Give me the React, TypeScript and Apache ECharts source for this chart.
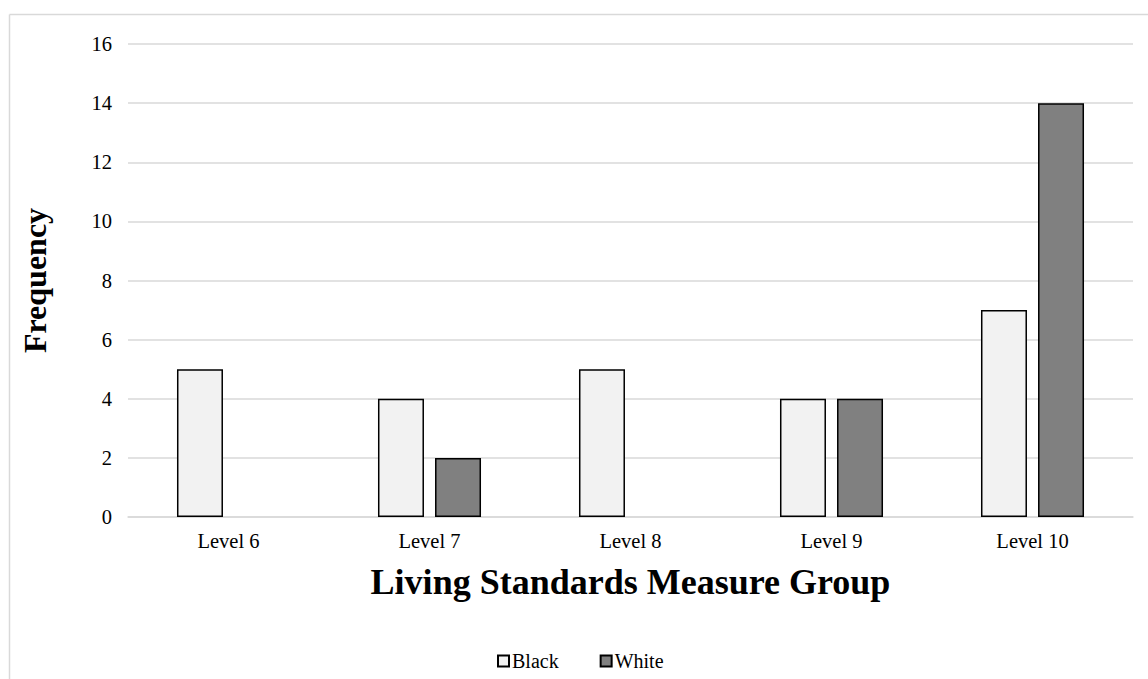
import React, { useEffect, useRef } from "react";
import * as echarts from "echarts";

const categories = ["Level 6", "Level 7", "Level 8", "Level 9", "Level 10"];
const blackValues = [5, 4, 5, 4, 7];
const whiteValues = [0, 2, 0, 4, 14];
const seriesNames = ["Black", "White"];

const FONT = "'Liberation Serif', 'Times New Roman', serif";

const toItems = (vals: number[]) =>
  vals.map((v) => (v === 0 ? { value: v, itemStyle: { borderWidth: 0, opacity: 0 } } : v));

export default function App() {
  const ref = useRef<HTMLDivElement>(null);
  useEffect(() => {
    const chart = echarts.init(ref.current!, null, { renderer: "svg" });
    chart.setOption({
      animation: false,
      backgroundColor: "#ffffff",
      textStyle: { fontFamily: FONT },
      graphic: [
        { type: "line", shape: { x1: 9.5, y1: 14.5, x2: 1148, y2: 14.5 }, style: { stroke: "#d9d9d9", lineWidth: 1.5 } },
        { type: "line", shape: { x1: 9.5, y1: 14.5, x2: 9.5, y2: 679 }, style: { stroke: "#d9d9d9", lineWidth: 1.5 } },
      ],
      legend: {
        data: seriesNames,
        left: 492,
        top: 646,
        itemWidth: 11,
        itemHeight: 11,
        itemGap: 41,
        icon: "rect",
        textStyle: { fontFamily: FONT, fontSize: 20, color: "#000", padding: [0, 0, 0, -2] },
      },
      grid: { left: 128, right: 15, top: 44, bottom: 162, containLabel: false },
      xAxis: {
        type: "category",
        data: categories,
        axisLine: { show: true, lineStyle: { color: "#d9d9d9", width: 1.5 } },
        axisTick: { show: false },
        axisLabel: { fontFamily: FONT, fontSize: 20.5, color: "#000", margin: 13 },
        name: "Living Standards Measure Group",
        nameLocation: "middle",
        nameGap: 47,
        nameTextStyle: { fontFamily: FONT, fontSize: 36, fontWeight: "bold", color: "#000" },
      },
      yAxis: {
        type: "value",
        min: 0,
        max: 16,
        interval: 2,
        axisLine: { show: false },
        axisTick: { show: false },
        axisLabel: { fontFamily: FONT, fontSize: 20.5, color: "#000", margin: 16 },
        splitLine: { lineStyle: { color: "#d9d9d9", width: 1.5 } },
        name: "Frequency",
        nameLocation: "middle",
        nameGap: 77,
        nameRotate: 90,
        nameTextStyle: { fontFamily: FONT, fontSize: 32, fontWeight: "bold", color: "#000" },
      },
      series: [
        {
          name: seriesNames[0],
          type: "bar",
          data: toItems(blackValues),
          barWidth: 46,
          barGap: "24%",
          itemStyle: { color: "#f2f2f2", borderColor: "#000", borderWidth: 1.5 },
        },
        {
          name: seriesNames[1],
          type: "bar",
          data: toItems(whiteValues),
          barWidth: 46,
          barGap: "24%",
          itemStyle: { color: "#808080", borderColor: "#000", borderWidth: 1.5 },
        },
      ],
    });
    return () => chart.dispose();
  }, []);
  return (
    <div
      ref={ref}
      style={{ position: "fixed", left: 0, top: 0, width: 1148, height: 679 }}
    />
  );
}
